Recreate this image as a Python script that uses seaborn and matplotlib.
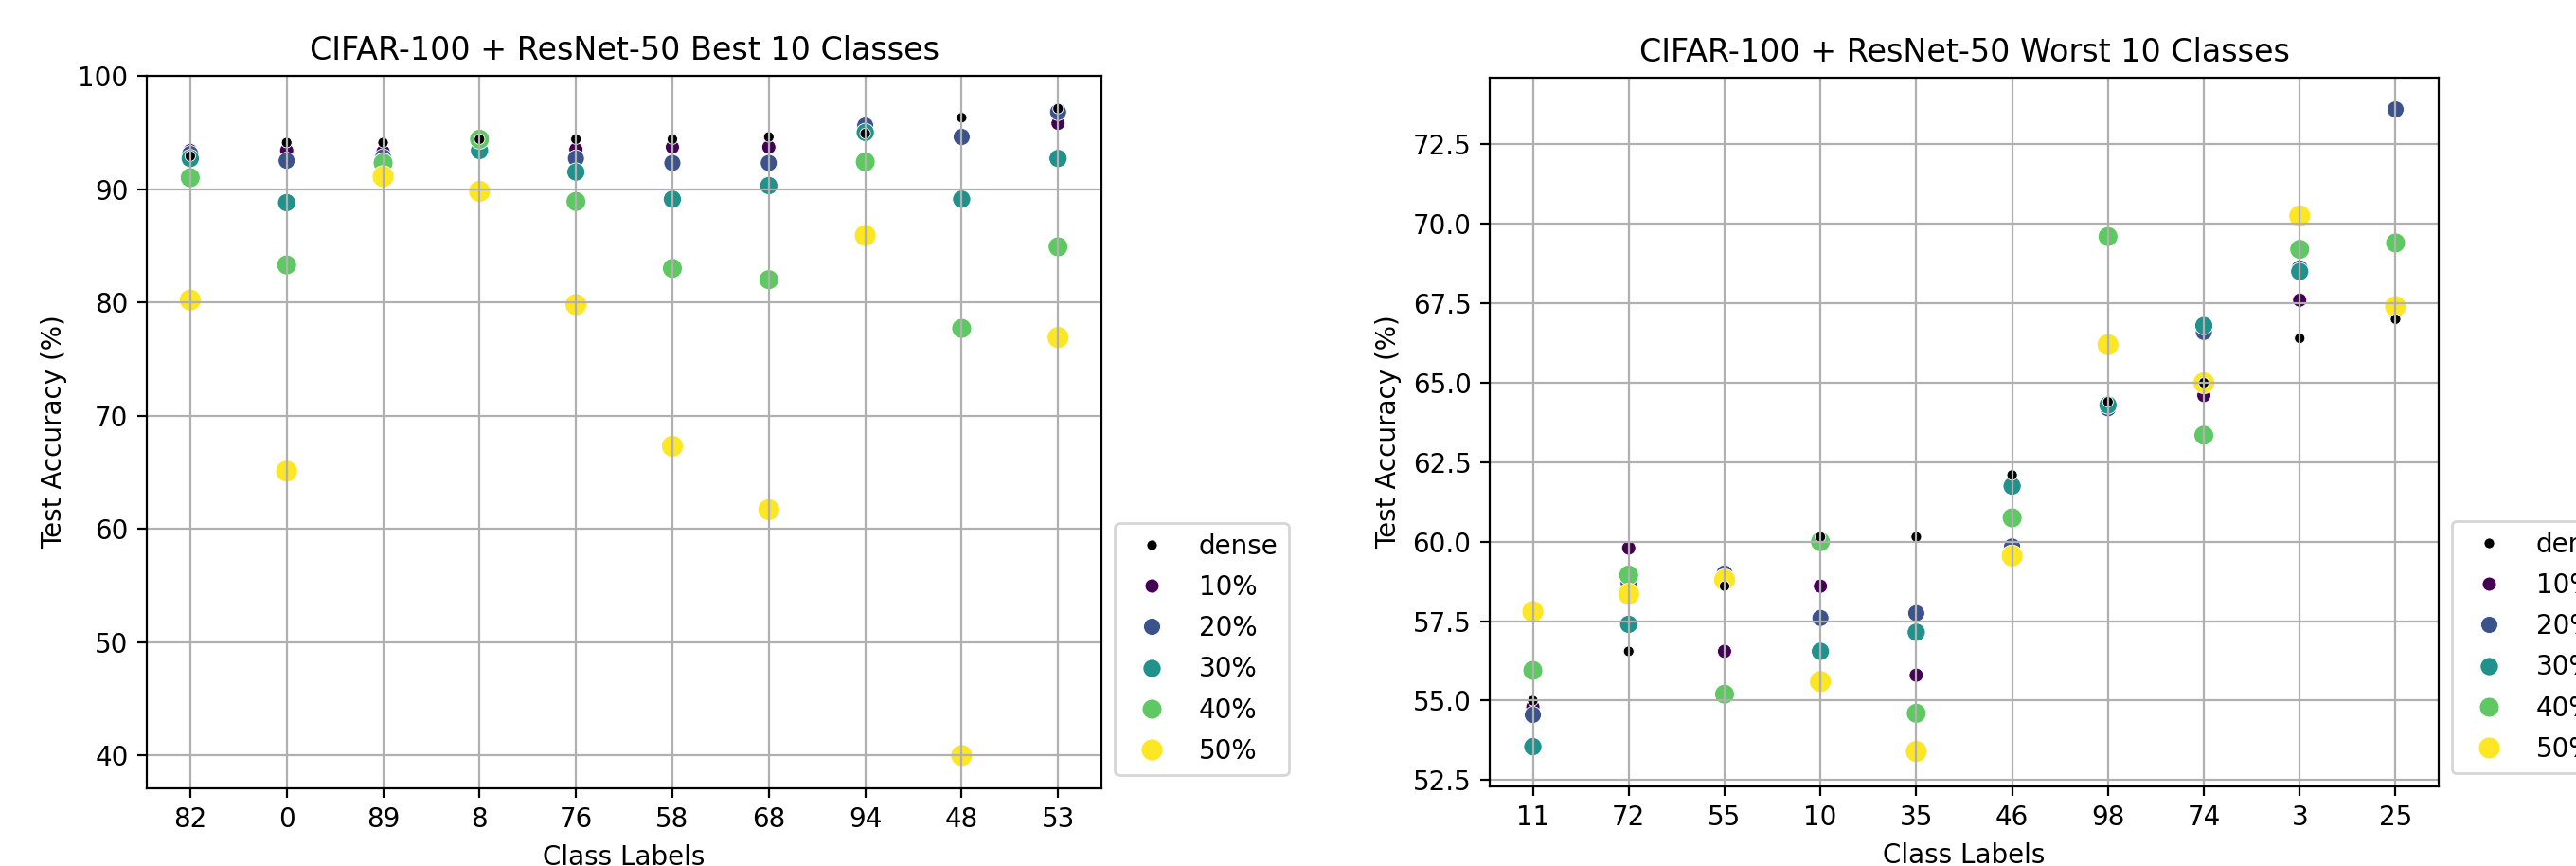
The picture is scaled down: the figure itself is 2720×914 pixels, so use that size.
import numpy as np
import pandas as pd
import seaborn as sns
import matplotlib.pyplot as plt

# sparsity levels, legend order
levels = ['dense', '10%', '20%', '30%', '40%', '50%']

# Best 10 classes
best_classes = ['82', '0', '89', '8', '76', '58', '68', '94', '48', '53']
best_dense = [92.9, 94.1, 94.1, 94.4, 94.4, 94.4, 94.6, 94.9, 96.3, 97.1]
best_10 = [93.4, 93.4, 93.3, 94.3, 93.5, 93.7, 93.7, 95.2, 94.5, 95.8]
best_20 = [93.1, 92.5, 92.8, 94.0, 92.7, 92.3, 92.3, 95.6, 94.6, 96.8]
best_30 = [92.7, 88.8, 92.4, 93.4, 91.5, 89.1, 90.3, 95.0, 89.1, 92.7]
best_40 = [91.0, 83.3, 92.3, 94.4, 88.9, 83.0, 82.0, 92.4, 77.7, 84.9]
best_50 = [80.2, 65.1, 91.1, 89.8, 79.8, 67.3, 61.7, 85.9, 40.0, 76.9]

# Worst 10 classes
worst_classes = ['11', '72', '55', '10', '35', '46', '98', '74', '3', '25']
worst_dense = [55.0, 56.55, 58.6, 60.15, 60.15, 62.1, 64.4, 65.0, 66.4, 67.0]
worst_10 = [54.8, 59.8, 56.55, 58.6, 55.8, 59.8, 64.3, 64.6, 67.6, 67.2]
worst_20 = [54.55, 58.7, 59.0, 57.6, 57.75, 59.85, 64.2, 66.6, 68.6, 73.6]
worst_30 = [53.55, 57.4, 58.8, 56.55, 57.15, 61.75, 64.3, 66.8, 68.5, 67.4]
worst_40 = [55.95, 58.95, 55.2, 60.0, 54.6, 60.75, 69.6, 63.35, 69.2, 69.4]
worst_50 = [57.8, 58.35, 58.8, 55.6, 53.4, 59.55, 66.2, 65.0, 70.25, 67.4]

colors = ['black'] + [plt.cm.viridis(v) for v in np.linspace(0, 1, 5)]
palette = dict(zip(levels, colors))
sizes = dict(zip(levels, [16, 29, 42, 48, 57, 69]))


def to_long(classes, values):
    frames = []
    # sparse levels first, dense last so the black dots end up on top
    for lvl in levels[1:] + levels[:1]:
        frames.append(pd.DataFrame({'cls': classes, 'acc': values[lvl], 'level': lvl}))
    return pd.concat(frames, ignore_index=True)


df_best = to_long(best_classes, dict(zip(levels, [best_dense, best_10, best_20, best_30, best_40, best_50])))
df_worst = to_long(worst_classes, dict(zip(levels, [worst_dense, worst_10, worst_20, worst_30, worst_40, worst_50])))

dpi = 200
fig = plt.figure(figsize=(2720 / dpi, 914 / dpi), dpi=dpi)
ax1 = fig.add_axes([0.057, 0.0897, 0.3706, 0.8228])
ax2 = fig.add_axes([0.5783, 0.0919, 0.3684, 0.8184])

panels = [
    (ax1, df_best, 'CIFAR-100 + ResNet-50 Best 10 Classes', (37.1, 100)),
    (ax2, df_worst, 'CIFAR-100 + ResNet-50 Worst 10 Classes', (52.3, 74.6)),
]

for ax, d, title, ylim in panels:
    sns.scatterplot(data=d, x='cls', y='acc', hue='level', size='level',
                    hue_order=levels, size_order=levels, palette=palette,
                    sizes=sizes, ax=ax)
    ax.set_ylim(*ylim)
    ax.set_title(title)
    ax.set_xlabel('Class Labels')
    ax.set_ylabel('Test Accuracy (%)')
    ax.grid(True)
    sns.move_legend(ax, 'lower left', bbox_to_anchor=(1, 0), title=None,
                    fontsize=10, handlelength=2.0, handletextpad=0.8,
                    labelspacing=0.55)

fig.savefig('out.png', dpi=dpi)
